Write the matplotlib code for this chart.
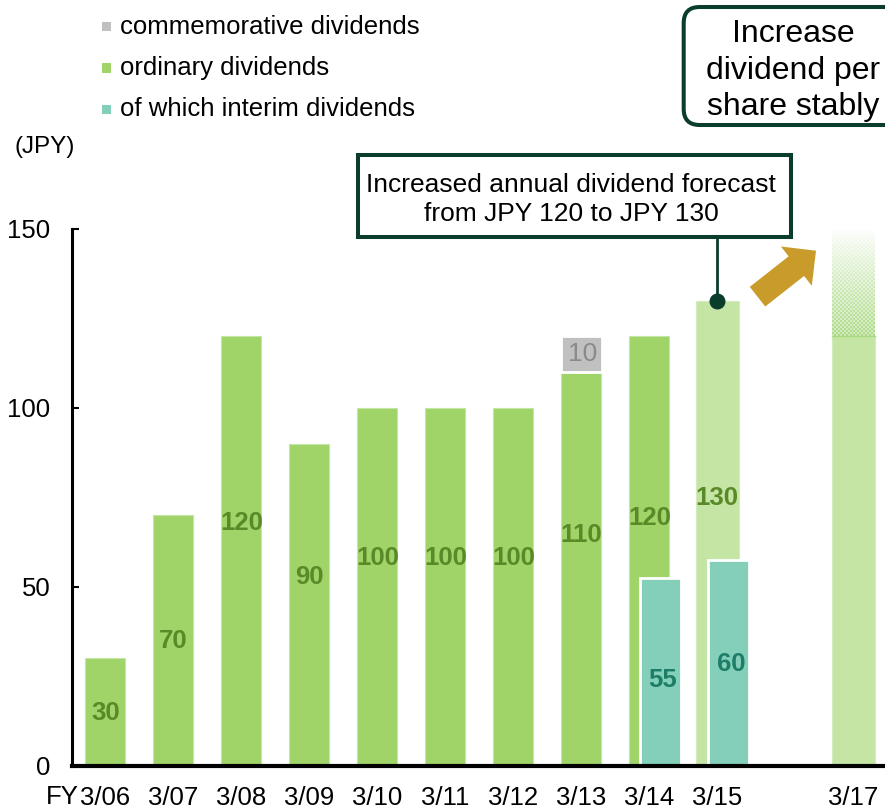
import numpy as np
import matplotlib
matplotlib.use("Agg")
import matplotlib.pyplot as plt
from matplotlib.patches import Rectangle, FancyBboxPatch, FancyArrow
from matplotlib.transforms import Affine2D

plt.rcParams['font.family'] = ['Liberation Sans', 'DejaVu Sans']

# ---------------- data ----------------
categories = ['3/06', '3/07', '3/08', '3/09', '3/10', '3/11', '3/12', '3/13', '3/14', '3/15', '3/17']
ordinary = [30, 70, 120, 90, 100, 100, 100, 110, 120, 130, 120]
ordinary_labels = ['30', '70', '120', '90', '100', '100', '100', '110', '120', '130', '']
commemorative_cat = '3/13'
commemorative = 10
interim_cats = ['3/14', '3/15']
interim_heights = [52.5, 57.5]
interim_labels = ['55', '60']
fy17_fade_top = 150
legend_labels = ['commemorative dividends', 'ordinary dividends', 'of which interim dividends']

# ---------------- layout / style ----------------
W, H = 885, 810
xpos = list(range(10)) + [11]
label_y = [14.7, 34.8, 67.9, 52.8, 58.1, 58.1, 58.1, 64.5, 69.3, 74.9, 0]
interim_label_y = [23.9, 28.4]
C_GREEN = '#a0d468'
C_LIGHT = '#c5e5a4'
C_TEAL = '#84cfb9'
C_GRAY = '#c0c0c0'
C_LBL = '#5a8a28'
C_TLBL = '#1e7d68'
C_DARK = '#0b3d2c'
C_GOLD = '#c99b2b'
FS = 18.5

fig = plt.figure(figsize=(W / 100, H / 100), dpi=100)
T = Affine2D().scale(1 / W, -1 / H).translate(0, 1) + fig.transFigure

ax_left, ax_bottom_px, ax_top_px = 72, 765.5, 229
ax = fig.add_axes([ax_left / W, 1 - ax_bottom_px / H, 1 - ax_left / W, (ax_bottom_px - ax_top_px) / H])
ax.set_xlim(-0.49, 11.466)
ax.set_ylim(0, 150)

for s in ['top', 'right']:
    ax.spines[s].set_visible(False)
ax.spines['left'].set_linewidth(2.2)
ax.spines['bottom'].set_linewidth(3)
ax.spines['left'].set_zorder(5)
ax.spines['bottom'].set_zorder(5)

ax.set_yticks([0, 50, 100, 150])
ax.set_yticklabels(['0', '50', '100', '150'], fontsize=FS)
ax.tick_params(axis='y', direction='in', length=5, width=1.5, pad=15.5)
ax.set_xticks(xpos)
ax.set_xticklabels(categories, fontsize=FS)
ax.tick_params(axis='x', length=0, pad=15.0)

# ordinary bars
for i, (x, v) in enumerate(zip(xpos, ordinary)):
    light = categories[i] in ('3/15', '3/17')
    w = 0.63 if light else 0.59
    ax.bar(x, v, width=w, color=C_LIGHT if light else C_GREEN,
           edgecolor='#c4e6a6' if not light else '#d4ecbc', linewidth=0.8, zorder=2)
    if ordinary_labels[i]:
        ax.text(x, label_y[i], ordinary_labels[i], ha='center', va='center',
                fontsize=18.5, fontweight='bold', color=C_LBL, zorder=6)

# commemorative
ci = categories.index(commemorative_cat)
ax.bar(xpos[ci], commemorative, bottom=ordinary[ci], width=0.61, color=C_GRAY,
       edgecolor='white', linewidth=2, zorder=3)
ax.text(xpos[ci] + 0.02, ordinary[ci] + commemorative / 2, str(commemorative), ha='center',
        va='center', fontsize=19, color='#8a8a8a', zorder=6)

# interim bars
for cat, h, lab, ly in zip(interim_cats, interim_heights, interim_labels, interim_label_y):
    x = xpos[categories.index(cat)] + 0.17
    ax.bar(x, h, width=0.6, color=C_TEAL, edgecolor='white', linewidth=2, zorder=4)
    ax.text(x + 0.03, ly, lab, ha='center', va='center', fontsize=18.5,
            fontweight='bold', color=C_TLBL, zorder=6)

# 3/17 fading top
fi = categories.index('3/17')
x0, x1 = xpos[fi] - 0.315, xpos[fi] + 0.315
nh, nw = 108, 44
ramp = np.linspace(1.0, 0.0, nh)[:, None] ** 0.9
ii, jj = np.mgrid[0:nh, 0:nw]
checker = ((ii // 2 + jj // 2) % 2).astype(float)
alpha = ramp * (0.55 + 0.45 * checker) * 0.95
img = np.zeros((nh, nw, 4))
rgb = np.array([0xa8, 0xd8, 0x80]) / 255
img[..., :3] = rgb
img[..., 3] = alpha
ax.imshow(img, extent=[x0, x1, ordinary[fi], fy17_fade_top], origin='lower',
          aspect='auto', interpolation='nearest', zorder=2)
ax.plot([x0, x1], [ordinary[fi], ordinary[fi]], color='#a8d880', lw=1, zorder=3)
ax.set_xlim(-0.49, 11.466)
ax.set_ylim(0, 150)

# FY prefix
fig.text(79, 797.5, 'FY', transform=T, ha='right', va='center', fontsize=FS)
# unit label
fig.text(14, 147, '(JPY)', transform=T, ha='left', va='center', fontsize=17.5)

# legend
leg_colors = [C_GRAY, C_GREEN, C_TEAL]
for k, (lab, c) in enumerate(zip(legend_labels, leg_colors)):
    yc = 26.5 + k * 41.5
    fig.add_artist(Rectangle((101.5, yc - 5), 9.5, 9.5, transform=T, facecolor=c, edgecolor='none'))
    fig.text(120, yc, lab, transform=T, ha='left', va='center', fontsize=18.5)

# annotation box
fig.add_artist(Rectangle((358, 155.3), 432.7, 82, transform=T, facecolor='white',
                         edgecolor=C_DARK, linewidth=2.9))
fig.text(571, 199.5, 'Increased annual dividend forecast\nfrom JPY 120 to JPY 130', transform=T,
         ha='center', va='center', fontsize=19, linespacing=1.3)
x15 = xpos[categories.index('3/15')]
ax.plot([x15, x15], [ordinary[categories.index('3/15')], 147.3], color=C_DARK, lw=2, clip_on=False, zorder=7)
ax.plot([x15], [ordinary[categories.index('3/15')]], 'o', color=C_DARK, markersize=10.5,
        clip_on=False, zorder=8)

# top right rounded box
fig.add_artist(FancyBboxPatch((683.7, 7), 230, 118, boxstyle='round,pad=0,rounding_size=16',
                              transform=T, facecolor='white', edgecolor=C_DARK, linewidth=2.9))
fig.text(793, 70.5, 'Increase\ndividend per\nshare stably', transform=T, ha='center', va='center',
         fontsize=23, linespacing=1.3)

# gold arrow
fig.add_artist(FancyArrow(757.5, 296.7, 58.5, -46, width=25, head_width=50, head_length=25,
                          length_includes_head=True, transform=T, facecolor=C_GOLD,
                          edgecolor='none'))

fig.savefig('out.png', dpi=100)
